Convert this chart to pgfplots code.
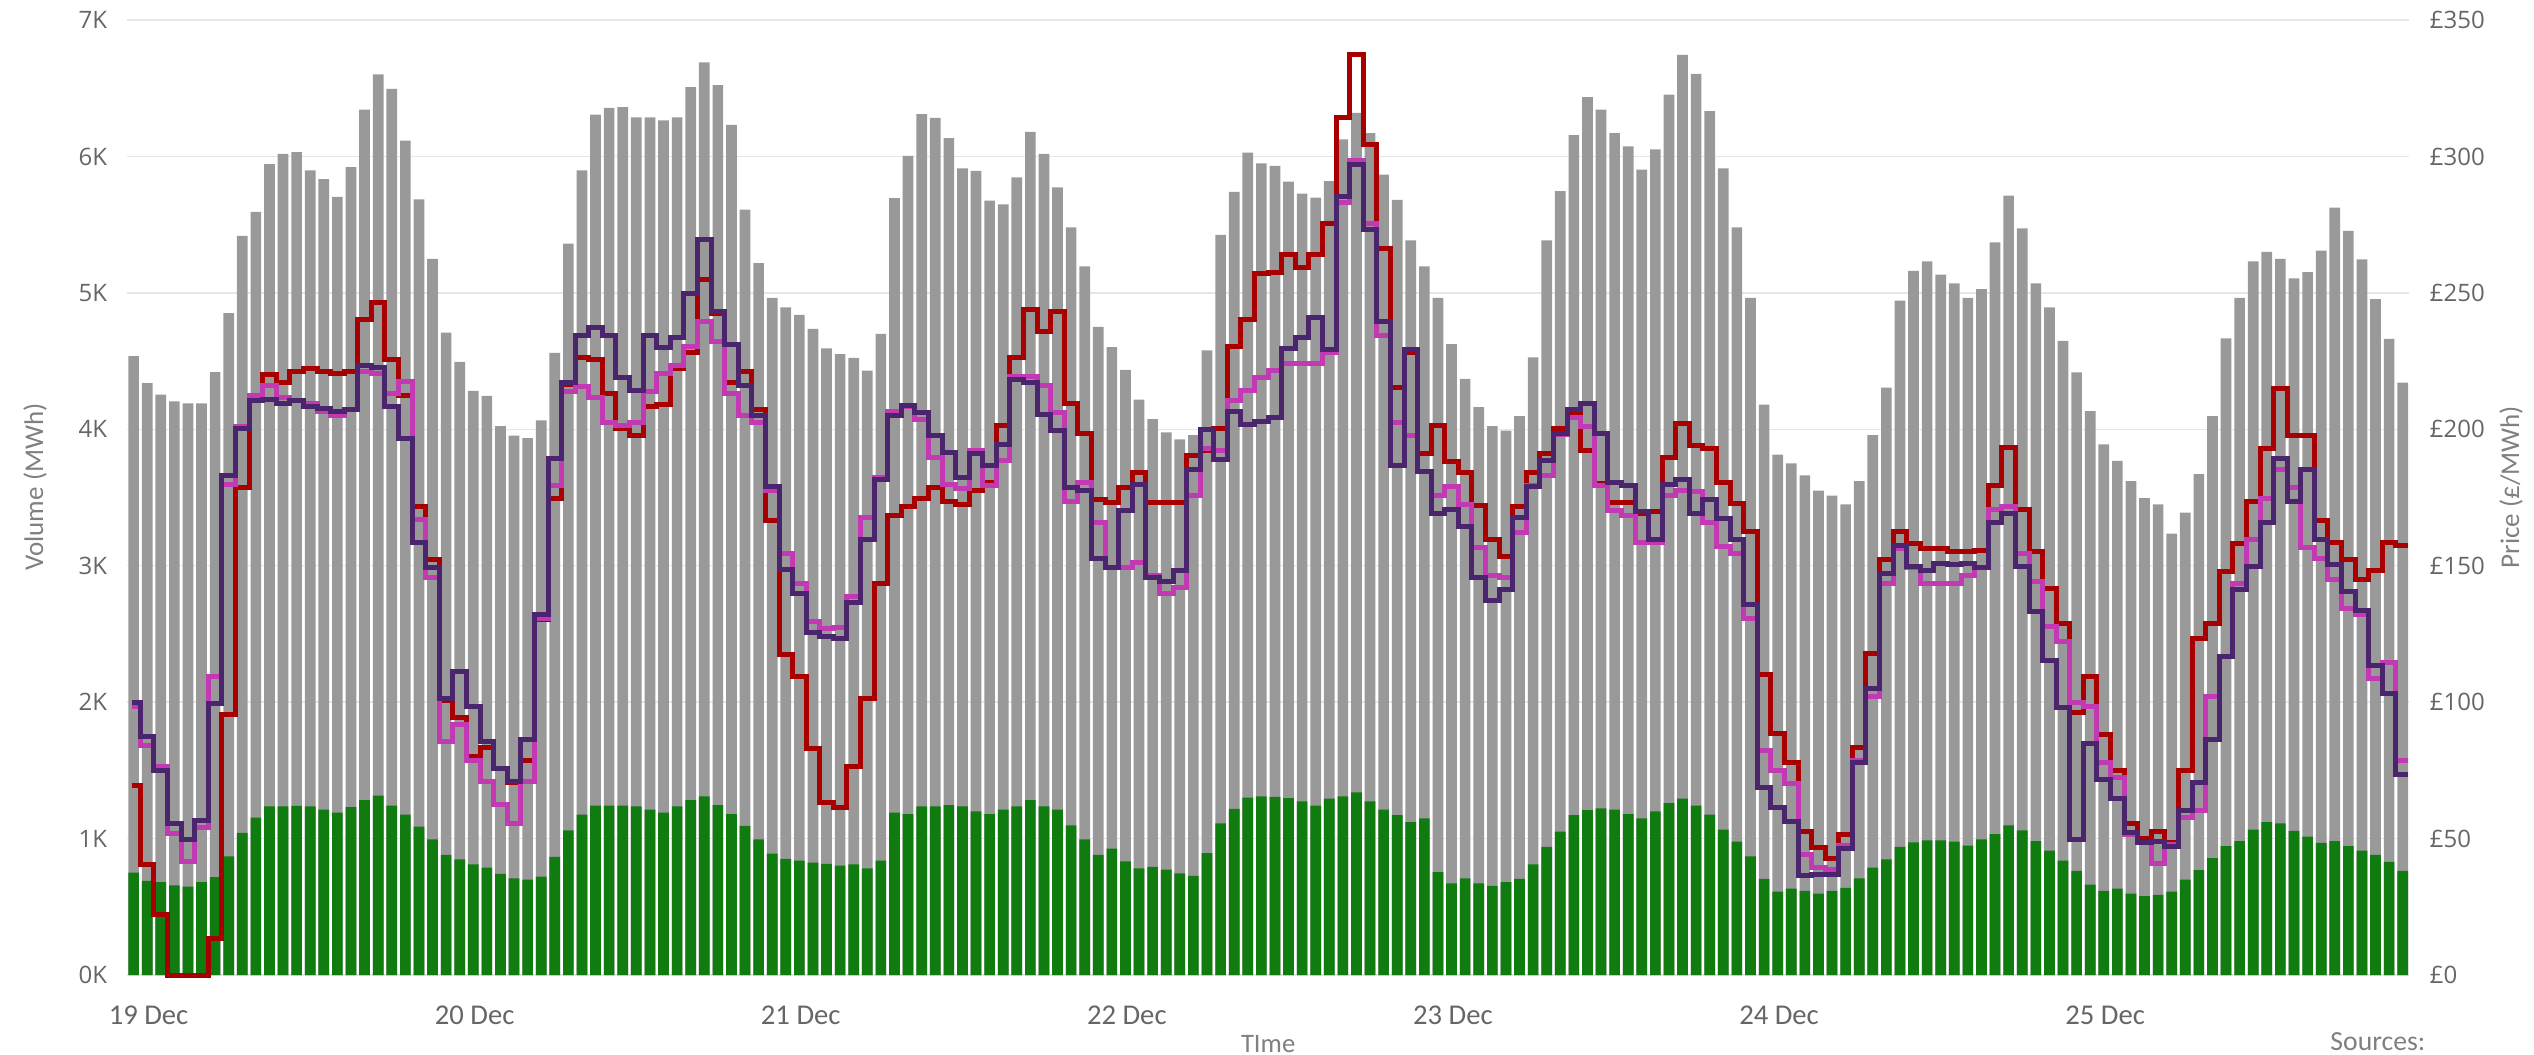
\documentclass[border=0pt]{standalone}
\usepackage{fontspec}
\setmainfont{Carlito}
\newfontfamily\numfont{Open Sans}
\usepackage{pgfplots}
\usepackage{pgfplotstable}
\pgfplotsset{compat=1.18}
\definecolor{barGray}{HTML}{999999}
\definecolor{barGreen}{HTML}{107C10}
\definecolor{lnRed}{HTML}{A80000}
\definecolor{lnPur}{HTML}{4A256E}
\definecolor{lnMag}{HTML}{C239B3}
\definecolor{gridc}{HTML}{E6E6E6}
\definecolor{tickc}{HTML}{666666}
\definecolor{titlec}{HTML}{808080}
\pgfplotstableread{
i gray green red pur mag
0 4537 750 69.5 100 98.4
1 4338 690 40.5 87.5 84
2 4255 680 22 74.8 76.4
3 4204 657 0 55.6 52
4 4190 648 0 49.8 41.7
5 4190 680 0 56.7 54
6 4420 718 13.2 99.5 109.5
7 4852 870 95.4 182.9 179.9
8 5417 1042 178.7 200.2 200.9
9 5593 1153 212.3 210.7 212.5
10 5944 1236 219.9 211 216
11 6019 1236 217.1 209.5 211.8
12 6032 1240 221.3 210.7 210.7
13 5898 1236 222.2 208.3 209.5
14 5833 1213 221 207.7 206.7
15 5704 1190 220.4 206.7 204.9
16 5921 1231 221.3 207.2 207.2
17 6343 1282 240.3 223.4 221
18 6602 1315 246.3 222.7 220.4
19 6495 1241 225.7 208.3 213
20 6116 1176 212.5 196.8 217.6
21 5685 1088 171.8 158.6 167.1
22 5250 995 152.1 149.3 145.8
23 4708 880 100.7 101.4 85.7
24 4495 847 94.2 111.1 91.9
25 4282 810 79.9 98.4 78.7
26 4245 787 83.3 85.7 71.1
27 4023 741 75.7 75.7 62.5
28 3954 708 70.6 71.1 55.6
29 3935 699 78.7 86.3 71.1
30 4065 722 130.3 132 130.8
31 4560 866 174.8 189.4 179.4
32 5361 1060 216.5 217.1 213.7
33 5898 1176 226.2 234.3 215.8
34 6306 1241 225.7 237.3 211.8
35 6356 1241 213 234.3 202.6
36 6361 1241 200.2 218.8 201.4
37 6287 1236 197.9 214.1 202.6
38 6287 1213 208.3 234.3 213.7
39 6264 1190 209 229.9 220.4
40 6287 1236 222.2 233.8 223.4
41 6509 1282 228 249.6 230.3
42 6690 1310 255 269.7 239.6
43 6523 1245 242.4 243.1 232
44 6231 1180 217.1 231 213
45 5611 1093 221 216 204.9
46 5218 995 207.2 204.9 202.6
47 4963 889 166.7 179 177.6
48 4894 852 117.6 148.6 154.6
49 4838 838 109.3 140 143.5
50 4736 824 82.9 125.7 129.6
51 4593 815 63.2 123.9 126.9
52 4551 801 61.3 123.2 127.3
53 4523 810 76.4 136.6 138.9
54 4431 782 101.4 159.7 167.8
55 4699 838 143.5 181.7 182.2
56 5694 1190 168.3 204.9 206.7
57 6005 1180 171.8 208.8 208.3
58 6310 1236 174.8 206 203.7
59 6282 1236 178.7 197.9 189.8
60 6134 1245 173.6 191.4 179.9
61 5912 1236 172.5 182.2 178.3
62 5894 1200 177.6 191 192.1
63 5676 1180 180.6 186.8 179.4
64 5648 1213 201.4 194.5 188.7
65 5847 1236 226.4 218.1 219.2
66 6181 1282 243.8 217.1 219.5
67 6019 1236 235.7 205.3 216
68 5773 1213 243.1 199.6 206
69 5481 1097 209.5 178.7 173.6
70 5194 995 198.6 177.6 180.6
71 4750 880 174.1 152.8 166
72 4602 926 173.2 149.3 149.3
73 4435 833 178.7 170.2 149.3
74 4218 782 184 179.9 151.2
75 4074 792 173.2 145.8 146.5
76 3977 773 173.2 144.2 140
77 3926 745 173.2 148.2 141.9
78 3958 727 190.5 185.2 175.9
79 4579 894 192.1 199.8 192.8
80 5426 1111 200.2 189.1 192.1
81 5741 1218 230.3 206.7 210.7
82 6028 1301 240.3 201.9 214.1
83 5949 1310 257 203 218.8
84 5931 1306 257.4 204.4 221.5
85 5815 1296 263.9 229.6 224.1
86 5727 1273 259.3 233.8 224.1
87 5699 1241 263.9 240.8 224.1
88 5819 1292 275.5 229.2 228
89 6125 1310 314.1 285.2 283.1
90 6319 1338 337.3 297 298.6
91 6171 1273 304.4 273.2 275.5
92 5866 1213 266.2 239.6 234.3
93 5681 1171 215.3 186.8 202.6
94 5384 1120 228 229.2 197.9
95 5194 1148 191 184.5 184.5
96 4963 755 201.4 169 175.9
97 4625 671 188.2 170.6 179
98 4370 708 184 164.4 172.5
99 4162 671 172 145.8 156.7
100 4023 653 159.7 137.3 146.5
101 3991 680 153.5 141.2 145.8
102 4097 704 171.8 167.8 162
103 4528 810 184 179 179.4
104 5384 940 191 188.7 182.9
105 5745 1051 200.2 198.4 198
106 6157 1171 205.3 207.2 204.4
107 6435 1208 192.1 209.5 200.9
108 6343 1222 180 198.4 179.4
109 6171 1213 173.2 180.6 170.2
110 6074 1180 173.2 179.4 168.3
111 5903 1148 169 169.7 158.6
112 6051 1199 169.7 159.7 158.6
113 6454 1259 189.8 179.9 175.9
114 6745 1292 202.1 181.7 177.6
115 6606 1241 194 169 177.1
116 6333 1176 192.8 174.1 166
117 5912 1065 180.6 167.4 157
118 5481 977 172.9 159.7 154.4
119 4963 870 162.5 135.9 130.8
120 4181 704 110 68.8 82.2
121 3815 611 88.4 61.3 74.8
122 3750 634 78 56.3 70.1
123 3662 616 52.5 36.3 44
124 3551 597 46.8 37 39.4
125 3514 616 42.8 37 38.7
126 3449 639 51.6 46.3 47.5
127 3620 708 83.3 78 78.7
128 3958 787 118 104.9 101.9
129 4306 847 152.3 147 143.5
130 4944 940 162.5 157.4 156.3
131 5162 972 158.1 149.8 149.3
132 5231 986 156.3 148.2 143.5
133 5134 986 156.3 150.9 143.5
134 5069 977 155.1 150.5 143.5
135 4963 949 155.1 150.9 146.5
136 5028 995 155.6 149.3 149.3
137 5370 1032 179.4 166 170.6
138 5713 1097 193.3 169 171.8
139 5472 1060 170.6 149.8 154.4
140 5069 981 155.1 133.1 144.2
141 4894 912 141.7 115.1 127.8
142 4648 838 128.9 97.9 122.2
143 4417 764 96.1 49.8 100
144 4134 662 109.5 85 98.4
145 3889 616 88 71.8 78
146 3769 634 74.8 64.8 72.5
147 3620 597 55.6 52.1 51.6
148 3495 579 50.2 48.6 48.6
149 3449 588 52.5 49.1 41
150 3236 611 48.6 47 47.9
151 3389 699 74.8 60.2 57.9
152 3671 769 123.4 70.6 60.2
153 4097 856 128.9 86.3 101.9
154 4667 944 147.7 116.9 116.9
155 4963 981 158.1 141.2 143.5
156 5231 1065 173.6 149.8 159.7
157 5301 1120 192.8 166 174.8
158 5250 1111 214.8 189.4 185.2
159 5106 1056 197.9 173.6 178.7
160 5153 1014 197.9 185.2 156.7
161 5310 968 166.7 159.7 152.8
162 5625 981 158.6 150.5 145.1
163 5454 944 152.1 140.5 134.3
164 5245 912 145.1 133.6 132
165 4954 880 148.2 113.4 108.8
166 4662 829 158.6 103 114.6
167 4343 764 157.4 73.4 78.7
168 nan nan 157.4 73.4 78.7
}\datatable

\pgfplotsset{
  commonaxis/.style={
    at={(38.04pt,23.7pt)}, anchor=south west,
    scale only axis, width=684.8pt, height=286.5pt,
    xmin=-0.5, xmax=167.5,
    axis line style={draw=none},
    tick style={draw=none},
    clip=false,
  }
}

\begin{document}
\begin{tikzpicture}
\path[use as bounding box] (0,0) rectangle (760.2pt,316.2pt);
\begin{axis}[
  commonaxis,
  ymin=0, ymax=7000,
  axis x line*=bottom, axis y line*=left,
  ytick={0,1000,2000,3000,4000,5000,6000,7000},
  yticklabels={0K,1K,2K,3K,4K,5K,6K,7K},
  ymajorgrids, grid style={color=gridc, line width=0.45pt},
  xtick={1.1,25.1,49.1,73.1,97.1,121.1,145.1},
  xticklabels={19 Dec,20 Dec,21 Dec,22 Dec,23 Dec,24 Dec,25 Dec},
  yticklabel style={font=\numfont\fontsize{7.2}{8}\selectfont, text=tickc, anchor=east, inner sep=0pt, xshift=-5.7pt},
  xticklabel style={font=\fontsize{8.6}{10}\selectfont, text=tickc, anchor=base, inner sep=0pt, yshift=-10.5pt},
  ylabel={Volume (MWh)},
  ylabel style={at={(axis description cs:-0.0402,0.511)}, anchor=center, font=\fontsize{8.1}{9}\selectfont, text=titlec},
  xlabel={TIme},
  xlabel style={at={(axis description cs:0.5,-0.072)}, anchor=center, font=\fontsize{8}{9}\selectfont, text=titlec},
  ybar, bar width=3.2pt,
]
\addplot[fill=barGray, draw=none, bar shift=0pt] table[x=i, y=gray]{\datatable};
\addplot[fill=barGreen, draw=none, bar shift=0pt] table[x=i, y=green]{\datatable};
\node[anchor=east, font=\fontsize{8.3}{9}\selectfont, text=titlec, inner sep=0pt] at (axis description cs:1.0072,-0.070) {Sources:};
\end{axis}
\begin{axis}[
  commonaxis,
  ymin=0, ymax=350,
  axis x line=none, axis y line*=right,
  ytick={0,50,100,150,200,250,300,350},
  yticklabels={£0,£50,£100,£150,£200,£250,£300,£350},
  yticklabel style={font=\numfont\fontsize{7.2}{8}\selectfont, text=tickc, anchor=west, inner sep=0pt, xshift=5.9pt},
  ylabel={Price (£/MWh)},
  ylabel style={at={(axis description cs:1.0445,0.511)}, anchor=center, font=\fontsize{8.1}{9}\selectfont, text=titlec},
]
\addplot[const plot mark left, lnRed, line width=1.5pt, mark=none] table[x expr={min(max(\thisrow{i}-0.5,-0.15),167.4)}, y=red]{\datatable};
\addplot[const plot mark left, lnMag, line width=1.5pt, mark=none] table[x expr={min(max(\thisrow{i}-0.5,-0.15),167.4)}, y=mag]{\datatable};
\addplot[const plot mark left, lnPur, line width=1.5pt, mark=none] table[x expr={min(max(\thisrow{i}-0.5,-0.15),167.4)}, y=pur]{\datatable};
\end{axis}
\end{tikzpicture}
\end{document}
